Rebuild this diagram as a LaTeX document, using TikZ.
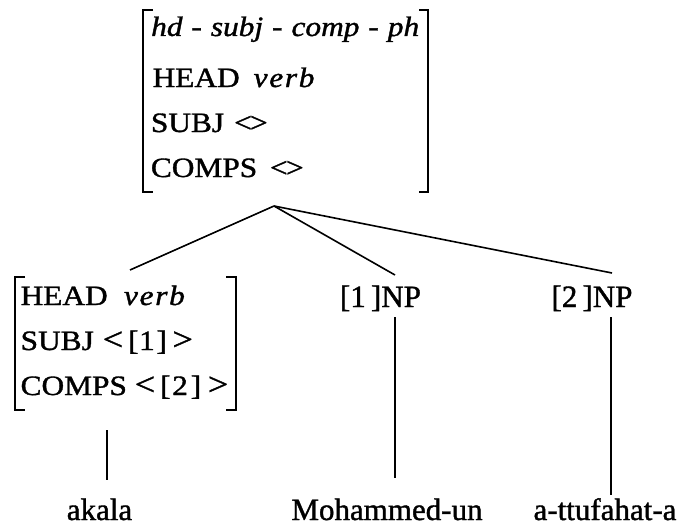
\documentclass[tikz,border=0pt]{standalone}
\usepackage{graphicx}
\usepackage{fontspec}
\setmainfont{Liberation Serif}[UprightFeatures={FakeBold=1.2},ItalicFeatures={FakeBold=1.2}]
% angle signs of a list, and the empty list drawn as the two set edge to edge
\newcommand\lsign{\scalebox{1.15}{<}}
\newcommand\rsign{\scalebox{1.15}{>}}
\newcommand\emptylst{<\kern-0.06em>}
% feature rows are set slightly widened
\newcommand\wide[1]{\scalebox{1.12}[1]{#1}}
\begin{document}
\begin{tikzpicture}[x=1pt,y=-1pt,
  avm/.style={anchor=base west,inner sep=0pt,font=\fontsize{28}{34}\selectfont},
  word/.style={anchor=base,inner sep=0pt,font=\fontsize{31}{36}\selectfont},
  brk/.style={line width=1.4pt},
  edge/.style={line width=1.6pt}]
\useasboundingbox (0,0) rectangle (679,527);

% mother: hd-subj-comp-ph
\draw[brk] (153,10) -- (143,10) -- (143,192) -- (153,192);
\draw[brk] (419,10) -- (428,10) -- (428,192) -- (419,192);
\node[avm] (t1) at (151,36) {\wide{\itshape hd\hspace{8pt}-\hspace{8pt}subj\hspace{8pt}-\hspace{8pt}comp\hspace{8pt}-\hspace{8pt}ph}};
\node[avm] (t2) at (152.4,87) {\wide{HEAD\hspace{12.5pt}\textit{v\kern1.5pt e\kern1.5pt r\kern1.5pt b}}};
\node[avm] (t3) at (150.7,132) {\wide{SUBJ\hspace{9pt}\emptylst}};
\node[avm] (t4) at (150.7,177) {\wide{COMPS\hspace{11.5pt}\emptylst}};
\coordinate (apex) at (274,206);

% head daughter
\draw[brk] (25,277) -- (15,277) -- (15,410) -- (25,410);
\draw[brk] (226,277) -- (236,277) -- (236,410) -- (226,410);
\node[avm] (b1) at (20.4,305) {\wide{HEAD\hspace{14.6pt}\textit{v\kern1.5pt e\kern1.5pt r\kern1.5pt b}}};
\node[avm] (b2) at (20.4,350) {\wide{SUBJ\hspace{8pt}\lsign\hspace{4.5pt}[\kern0.5pt 1\kern1.5pt]\hspace{5pt}\rsign}};
\node[avm] (b3) at (20.4,395) {\wide{COMPS\hspace{7pt}\lsign\hspace{4.5pt}[\kern1.5pt 2\kern2.5pt]\hspace{6pt}\rsign}};
\coordinate (hdtop) at (130,270);
\coordinate (hdbot) at (107,430);

% complement daughters
\node[word] (np1) at (380.5,307) {[1\,]NP};
\node[word] (np2) at (592,307) {[2\,]NP};
\coordinate (np1top) at (395,275);
\coordinate (np2top) at (612,273);
\coordinate (np1bot) at (395,317);
\coordinate (np2bot) at (611,317);

% words
\node[word] (w1) at (99.5,520) {akala};
\node[word] (w2) at (387,520) {Mohammed-un};
\node[word] (w3) at (605,520) {a-ttufahat-a};
\coordinate (w1top) at (107,480);
\coordinate (w2top) at (395,478);
\coordinate (w3top) at (611,495);

% branches
\draw[edge] (apex) -- (hdtop);
\draw[edge] (apex) -- (np1top);
\draw[edge] (apex) -- (np2top);
\draw[edge] (hdbot) -- (w1top);
\draw[edge] (np1bot) -- (w2top);
\draw[edge] (np2bot) -- (w3top);
\end{tikzpicture}
\end{document}
